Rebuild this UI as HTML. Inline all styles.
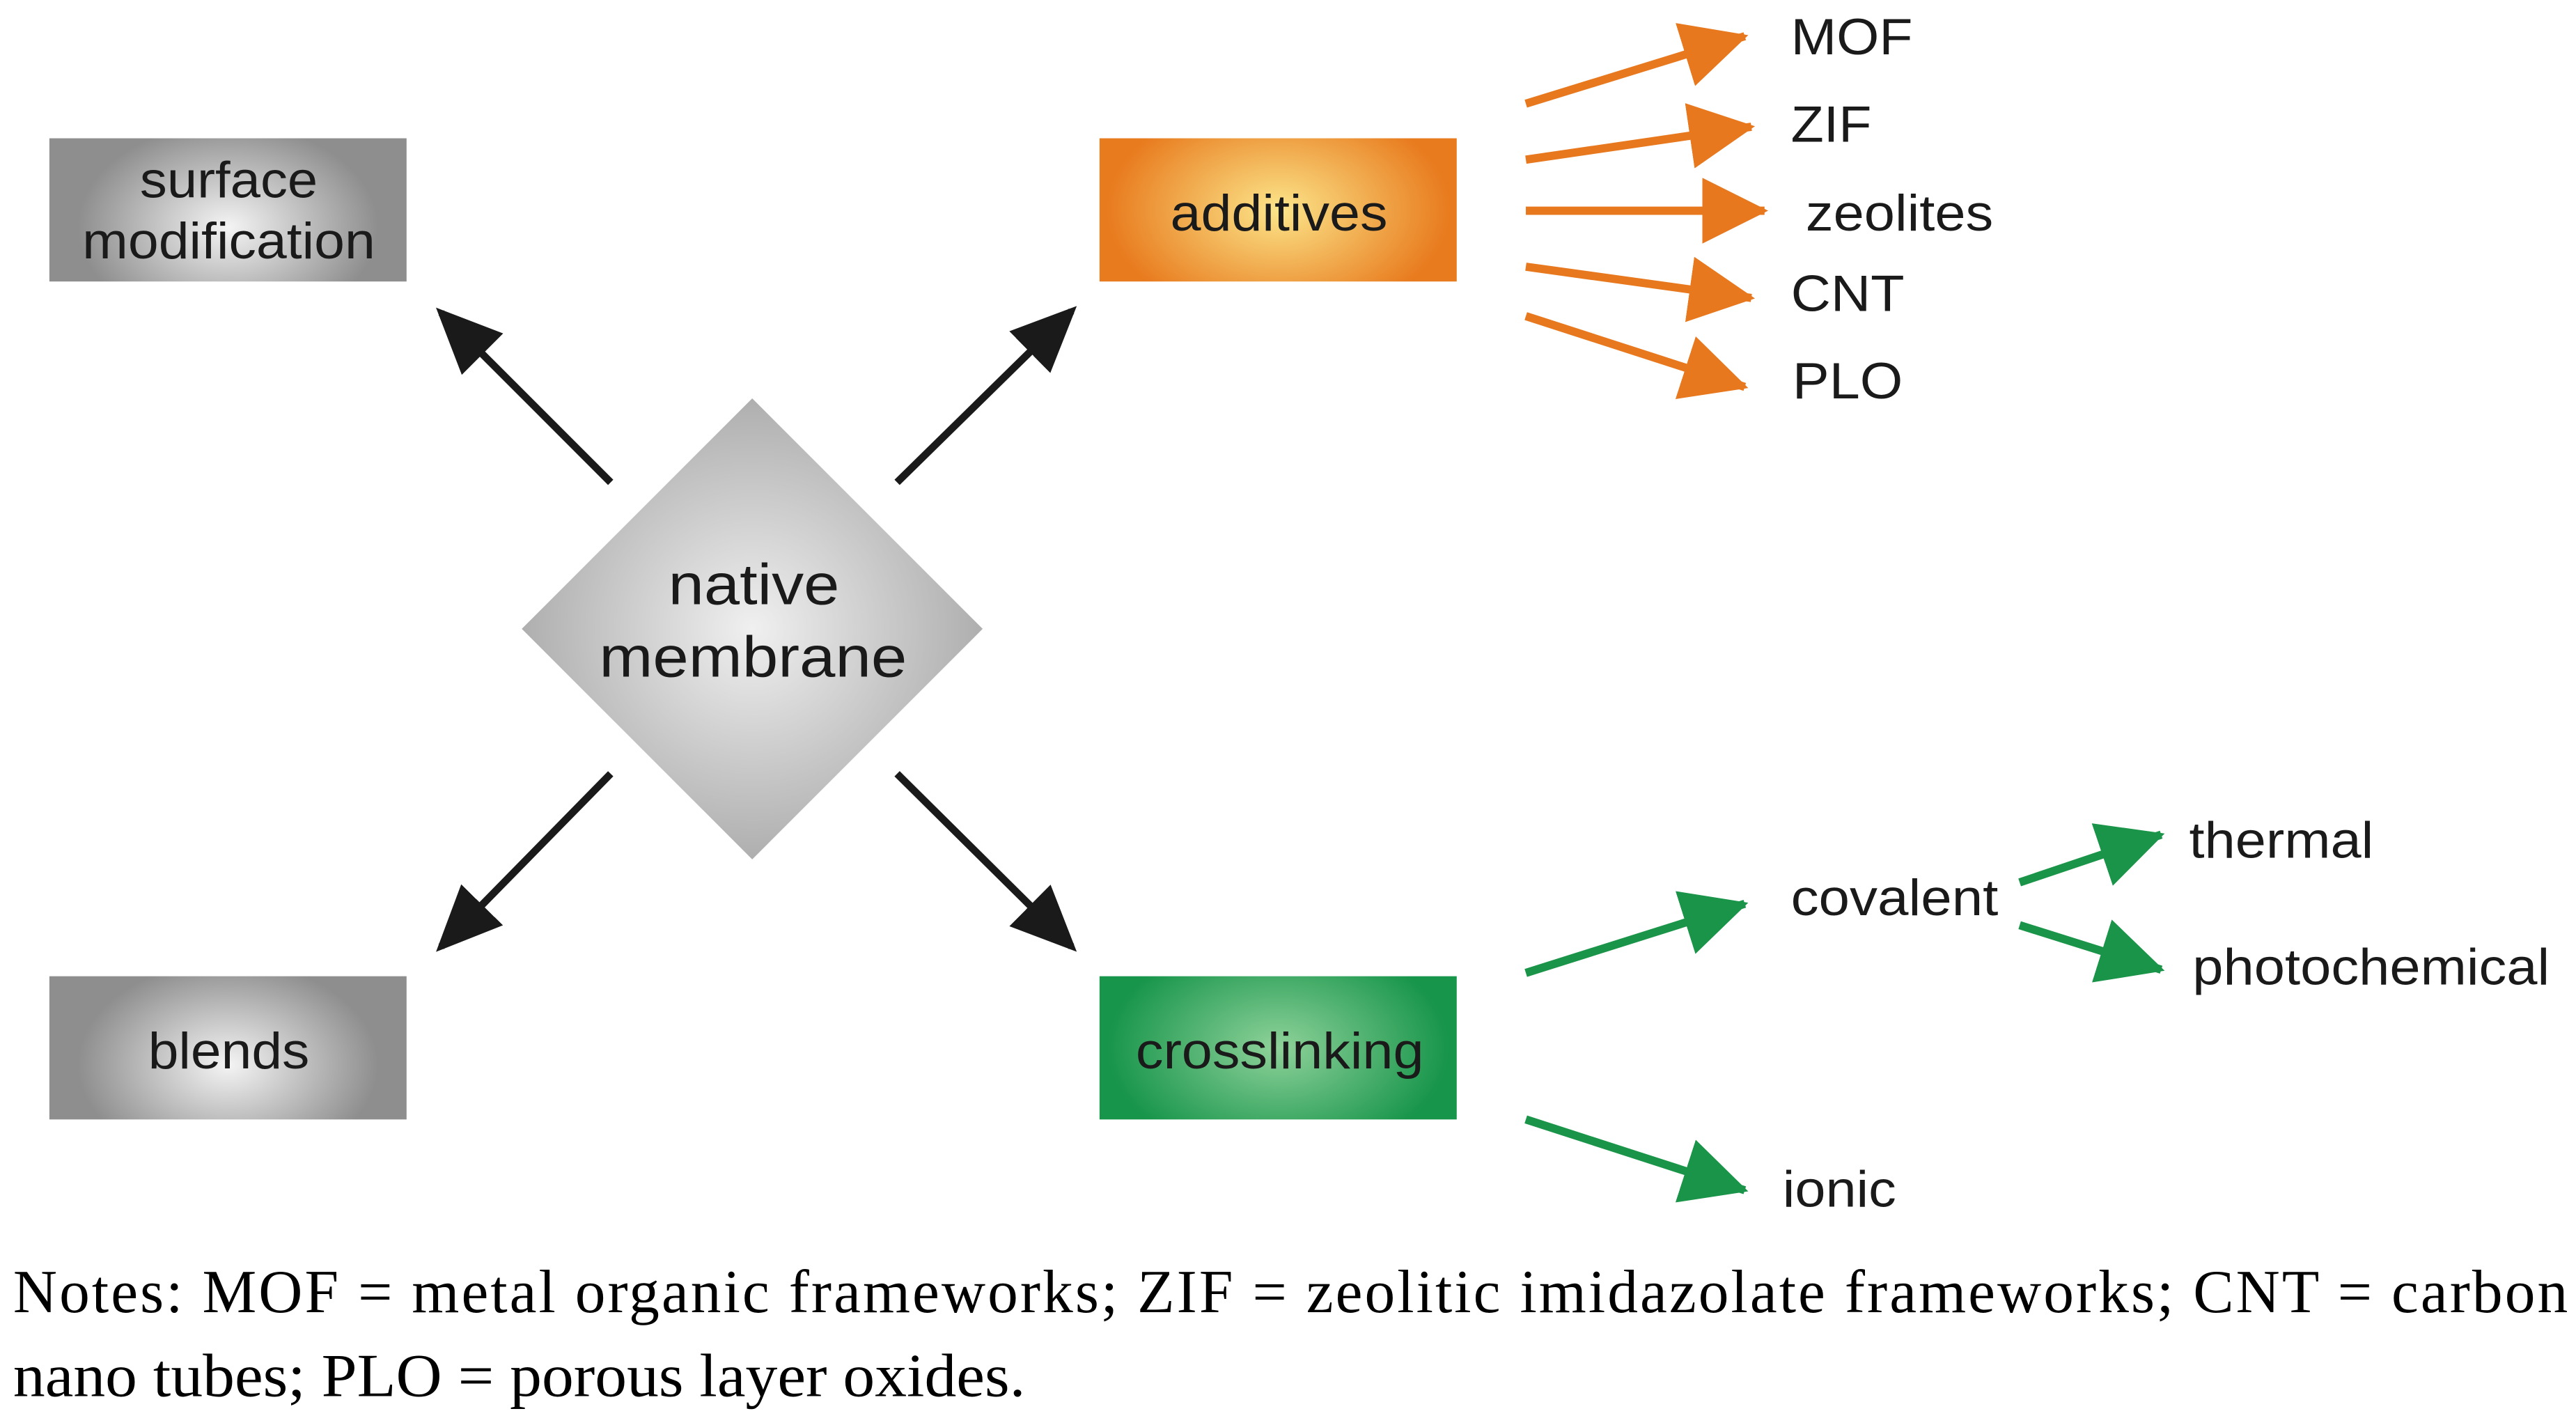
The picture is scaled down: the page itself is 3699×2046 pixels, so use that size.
<!DOCTYPE html>
<html><head><meta charset="utf-8"><style>
html,body{margin:0;padding:0;background:#fff;}
svg{display:block;}
</style></head><body>
<svg width="3699" height="2046" viewBox="0 0 1565 865.6" preserveAspectRatio="none" xmlns="http://www.w3.org/2000/svg" font-family="Liberation Sans, sans-serif">
<defs>
<radialGradient id="gg" cx="0.5" cy="0.6" r="0.6" gradientTransform="translate(0.5 0.5) scale(0.7 1.2) translate(-0.5 -0.5)">
<stop offset="0" stop-color="#f4f4f4"/><stop offset="1" stop-color="#8e8e8e"/></radialGradient>
<radialGradient id="og" cx="0.5" cy="0.5" r="0.6" gradientTransform="translate(0.5 0.5) scale(0.8 1.3) translate(-0.5 -0.5)">
<stop offset="0" stop-color="#fce58a"/><stop offset="1" stop-color="#e87b1e"/></radialGradient>
<radialGradient id="grg" cx="0.5" cy="0.5" r="0.6" gradientTransform="translate(0.5 0.5) scale(0.8 1.3) translate(-0.5 -0.5)">
<stop offset="0" stop-color="#8fd29a"/><stop offset="1" stop-color="#17954a"/></radialGradient>
<radialGradient id="dg" cx="0.5" cy="0.5" r="0.55">
<stop offset="0" stop-color="#f0f0f0"/><stop offset="1" stop-color="#a8a8a8"/></radialGradient>
<marker id="ab" markerUnits="userSpaceOnUse" markerWidth="40" markerHeight="40" refX="32" refY="16" orient="auto" viewBox="0 0 36 32"><path d="M0,0 L36,16 L0,32 Z" fill="#1a1a1a"/></marker>
<marker id="ao" markerUnits="userSpaceOnUse" markerWidth="40" markerHeight="40" refX="34" refY="18" orient="auto" viewBox="0 0 36 36"><path d="M0,0 L36,18 L0,36 Z" fill="#e8781e"/></marker>
<marker id="ag" markerUnits="userSpaceOnUse" markerWidth="40" markerHeight="40" refX="34" refY="18" orient="auto" viewBox="0 0 36 36"><path d="M0,0 L36,18 L0,36 Z" fill="#1a9448"/></marker>
</defs>
<rect x="30" y="84" width="217" height="87" fill="url(#gg)"/>
<rect x="668" y="84" width="217" height="87" fill="url(#og)"/>
<rect x="30" y="593" width="217" height="87" fill="url(#gg)"/>
<rect x="668" y="593" width="217" height="87" fill="url(#grg)"/>
<polygon points="457,242 597,382 457,522 317,382" fill="url(#dg)"/>
<g font-size="31" fill="#1a1a1a" lengthAdjust="spacingAndGlyphs">
<text x="85" y="120" textLength="108" lengthAdjust="spacingAndGlyphs">surface</text>
<text x="50" y="157" textLength="178" lengthAdjust="spacingAndGlyphs">modification</text>
<text x="711" y="140" textLength="132" lengthAdjust="spacingAndGlyphs">additives</text>
<text x="90" y="649" textLength="98" lengthAdjust="spacingAndGlyphs">blends</text>
<text x="690" y="649" textLength="175" lengthAdjust="spacingAndGlyphs">crosslinking</text>
</g>
<g font-size="35" fill="#1a1a1a">
<text x="406" y="367" textLength="104" lengthAdjust="spacingAndGlyphs">native</text>
<text x="364" y="411" textLength="187" lengthAdjust="spacingAndGlyphs">membrane</text>
</g>
<g stroke="#1a1a1a" stroke-width="4.5">
<line x1="371" y1="293" x2="268" y2="190" marker-end="url(#ab)"/>
<line x1="545" y1="293" x2="651" y2="189" marker-end="url(#ab)"/>
<line x1="371" y1="470" x2="268" y2="575" marker-end="url(#ab)"/>
<line x1="545" y1="470" x2="651" y2="575" marker-end="url(#ab)"/>
</g>
<g stroke="#e8781e" stroke-width="5">
<line x1="927" y1="63" x2="1060" y2="22" marker-end="url(#ao)"/>
<line x1="927" y1="97" x2="1064" y2="77" marker-end="url(#ao)"/>
<line x1="927" y1="128" x2="1072" y2="128" marker-end="url(#ao)"/>
<line x1="927" y1="162" x2="1064" y2="181" marker-end="url(#ao)"/>
<line x1="927" y1="192" x2="1060" y2="235" marker-end="url(#ao)"/>
</g>
<g stroke="#1a9448" stroke-width="5">
<line x1="927" y1="591" x2="1060" y2="549" marker-end="url(#ag)"/>
<line x1="927" y1="680" x2="1060" y2="723" marker-end="url(#ag)"/>
<line x1="1227" y1="536" x2="1313" y2="507" marker-end="url(#ag)"/>
<line x1="1227" y1="562" x2="1313" y2="589" marker-end="url(#ag)"/>
</g>
<g font-size="31" fill="#1a1a1a">
<text x="1088" y="33" textLength="74" lengthAdjust="spacingAndGlyphs">MOF</text>
<text x="1088" y="86" textLength="49" lengthAdjust="spacingAndGlyphs">ZIF</text>
<text x="1097" y="140" textLength="114" lengthAdjust="spacingAndGlyphs">zeolites</text>
<text x="1088" y="189" textLength="69" lengthAdjust="spacingAndGlyphs">CNT</text>
<text x="1089" y="242" textLength="67" lengthAdjust="spacingAndGlyphs">PLO</text>
<text x="1088" y="556" textLength="126" lengthAdjust="spacingAndGlyphs">covalent</text>
<text x="1330" y="521" textLength="112" lengthAdjust="spacingAndGlyphs">thermal</text>
<text x="1332" y="598" textLength="217" lengthAdjust="spacingAndGlyphs">photochemical</text>
<text x="1083" y="733" textLength="69" lengthAdjust="spacingAndGlyphs">ionic</text>
</g>
<g font-family="Liberation Serif, serif" font-size="37" fill="#000">
<text x="8" y="797" textLength="1552" lengthAdjust="spacing">Notes: MOF = metal organic frameworks; ZIF = zeolitic imidazolate frameworks; CNT = carbon</text>
<text x="8" y="848" textLength="615" lengthAdjust="spacingAndGlyphs">nano tubes; PLO = porous layer oxides.</text>
</g>
</svg>
</body></html>
